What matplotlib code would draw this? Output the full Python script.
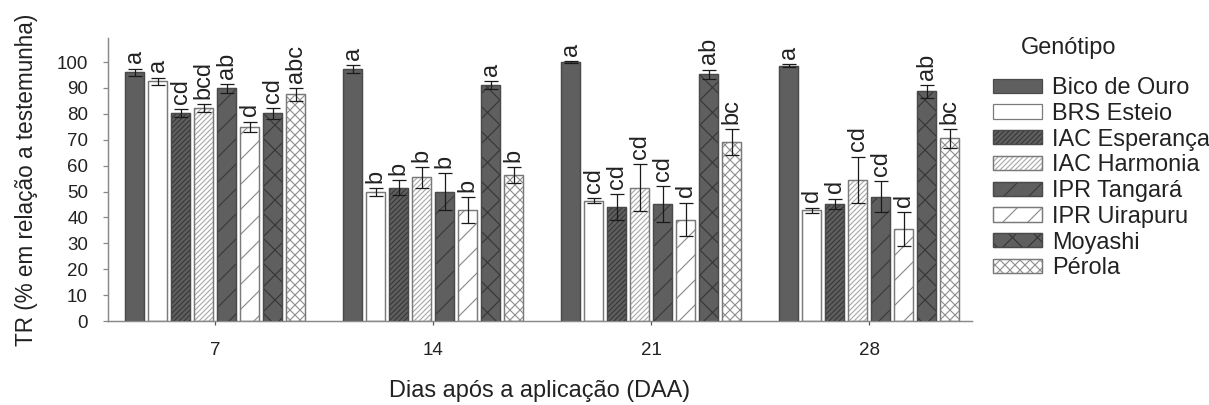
import numpy as np
import matplotlib
matplotlib.use('Agg')
import matplotlib.pyplot as plt
from matplotlib.patches import Patch
from matplotlib.legend_handler import HandlerTuple

plt.rcParams['font.family'] = ['Liberation Sans', 'DejaVu Sans']
plt.rcParams['hatch.linewidth'] = 0.55

# TR (% of control) per genotype at each evaluation day
days = ['7', '14', '21', '28']
genotypes = ['Bico de Ouro', 'BRS Esteio', 'IAC Esperança', 'IAC Harmonia',
             'IPR Tangará', 'IPR Uirapuru', 'Moyashi', 'Pérola']

tr_bico = [96.0, 97.3, 100.0, 98.6]
tr_brs = [92.5, 49.8, 46.5, 42.8]
tr_esperanca = [80.2, 51.5, 44.0, 45.3]
tr_harmonia = [82.3, 55.5, 51.5, 54.5]
tr_tangara = [89.8, 50.0, 45.2, 48.0]
tr_uirapuru = [75.0, 42.8, 39.2, 35.5]
tr_moyashi = [80.2, 91.2, 95.3, 88.7]
tr_perola = [87.5, 56.3, 69.2, 70.5]

err_bico = [1.5, 1.5, 0.5, 0.6]
err_brs = [1.5, 1.5, 1.0, 1.0]
err_esperanca = [1.5, 3.0, 5.0, 2.0]
err_harmonia = [1.5, 4.0, 9.0, 9.0]
err_tangara = [1.8, 7.0, 7.0, 6.0]
err_uirapuru = [2.0, 5.0, 6.5, 6.5]
err_moyashi = [2.0, 1.5, 1.8, 2.5]
err_perola = [2.5, 3.0, 5.0, 3.5]

let_bico = ['a', 'a', 'a', 'a']
let_brs = ['a', 'b', 'cd', 'd']
let_esperanca = ['cd', 'b', 'cd', 'd']
let_harmonia = ['bcd', 'b', 'cd', 'cd']
let_tangara = ['ab', 'b', 'cd', 'cd']
let_uirapuru = ['d', 'b', 'd', 'd']
let_moyashi = ['cd', 'a', 'ab', 'ab']
let_perola = ['abc', 'b', 'bc', 'bc']

means = [tr_bico, tr_brs, tr_esperanca, tr_harmonia,
         tr_tangara, tr_uirapuru, tr_moyashi, tr_perola]
errs = [err_bico, err_brs, err_esperanca, err_harmonia,
        err_tangara, err_uirapuru, err_moyashi, err_perola]
letters = [let_bico, let_brs, let_esperanca, let_harmonia,
           let_tangara, let_uirapuru, let_moyashi, let_perola]

# fill colour, hatch pattern, hatch colour
dark = '#5f5f5f'
styles = [
    (dark, '', '#5f5f5f'),
    ('white', '', '#999999'),
    (dark, '/' * 10, '#383838'),
    ('white', '/' * 10, '#a8a8a8'),
    (dark, '//', '#3a3a3a'),
    ('white', '//', '#8a8a8a'),
    (dark, 'xx', '#363636'),
    ('white', 'xxxxx', '#8f8f8f'),
]

txt = '#222222'
fs_tick = 9
fs = 11.3

fig = plt.figure(figsize=(1209 / 150, 405 / 150), dpi=150)
ax = fig.add_axes([108 / 1209, 1 - 321 / 405, 864 / 1209, 283 / 405])

x = np.arange(len(days))
step = 0.1055
width = 0.087
handles = []
for i, g in enumerate(genotypes):
    fill, hatch, hcol = styles[i]
    pos = x + (i - 3.5) * step
    edge = '#4a4a4a' if fill != 'white' else '#7a7a7a'
    ax.bar(pos, means[i], width, color=fill, edgecolor=edge, linewidth=0.6, zorder=2)
    if hatch:
        ax.bar(pos, means[i], width, facecolor='none', edgecolor=hcol,
               linewidth=0, hatch=hatch, zorder=3)
    ax.bar(pos, means[i], width, facecolor='none', edgecolor=edge,
           linewidth=0.6, zorder=4)
    ax.errorbar(pos, means[i], yerr=errs[i], fmt='none', ecolor='#1a1a1a',
                elinewidth=0.6, capsize=3.5, capthick=0.6, zorder=5)
    for xp, m, e, lab in zip(pos, means[i], errs[i], letters[i]):
        ax.text(xp, m + e + 2.0, lab, rotation=90, ha='center', va='bottom',
                fontsize=fs, color=txt)
    h_fill = Patch(facecolor=fill, edgecolor=edge, linewidth=0.6)
    if hatch:
        h_hatch = Patch(facecolor='none', edgecolor=hcol, linewidth=0, hatch=hatch)
        h_edge = Patch(facecolor='none', edgecolor=edge, linewidth=0.6)
        handles.append((h_fill, h_hatch, h_edge))
    else:
        handles.append((h_fill,))

ax.set_xlim(-0.491, 3.472)
ax.set_ylim(0, 109.3)
ax.set_xticks(x)
ax.set_xticklabels(days)
ax.set_yticks(np.arange(0, 101, 10))
ax.set_yticks([0, 50, 100], minor=True)
ax.tick_params(axis='y', which='major', length=2.4, width=0.6, pad=7.2,
               colors='#888888', labelcolor=txt, labelsize=fs_tick)
ax.tick_params(axis='y', which='minor', length=4.8, width=0.6, colors='#888888')
ax.tick_params(axis='x', length=2, width=0.6, pad=8, colors='#555555',
               labelcolor=txt, labelsize=fs_tick)

for s in ['top', 'right']:
    ax.spines[s].set_visible(False)
for s in ['left', 'bottom']:
    ax.spines[s].set_color('#8a8a8a')
    ax.spines[s].set_linewidth(0.7)

ax.set_ylabel('TR (% em relação a testemunha)', fontsize=10.8, color=txt, labelpad=9)
ax.set_xlabel('Dias após a aplicação (DAA)', fontsize=fs, color=txt, labelpad=10)

fig.text(1069 / 1209, 1 - 48 / 405, 'Genótipo', ha='center', va='center',
         fontsize=fs, color=txt)
fig.legend(handles, genotypes, loc='upper left',
           bbox_to_anchor=(993 / 1209, 1 - 77 / 405), frameon=False,
           fontsize=fs, labelcolor=txt, handlelength=2.08, handleheight=0.55,
           handletextpad=0.43, labelspacing=0.16, borderpad=0, borderaxespad=0,
           handler_map={tuple: HandlerTuple(ndivide=1, pad=0)})

fig.savefig('out.png', dpi=150, facecolor='white')
